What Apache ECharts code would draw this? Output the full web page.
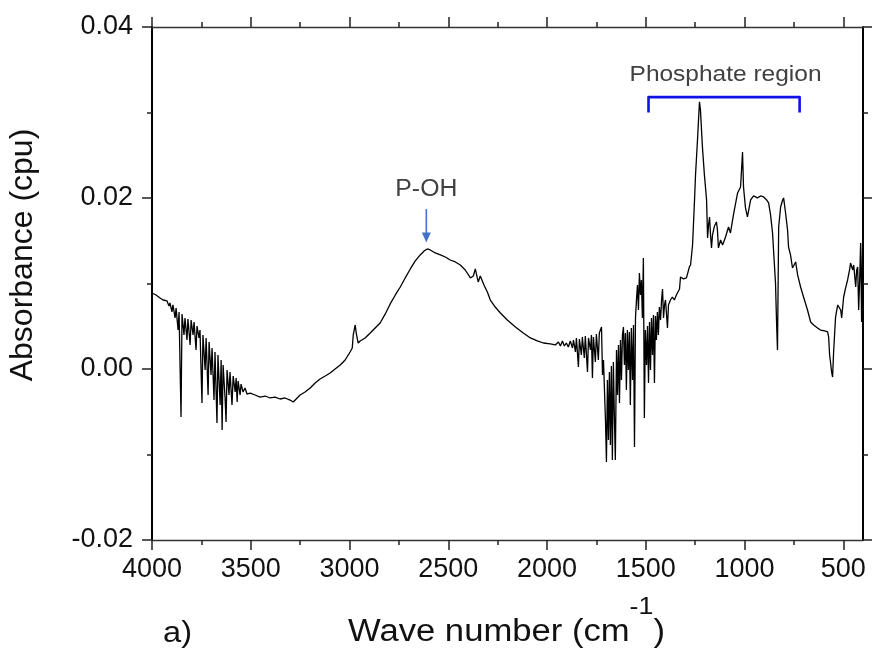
<!DOCTYPE html>
<html><head><meta charset="utf-8">
<script src="https://cdn.jsdelivr.net/npm/echarts@6/dist/echarts.min.js"></script>
<style>html,body{margin:0;padding:0;background:#fff}#c{width:872px;height:652px}</style>
</head><body><div id="c"></div>
<script>
// ---- data (wave number in cm-1, absorbance in cpu) ----
const wavenumber = [
4000,3980,3959,3944,3934,3924,3914,3909,3899,3894,3883,3878,3868,3863,3853,3848,3838,3833,3823,3818,
3807,3802,3792,3787,3777,3772,3762,3757,3747,3742,3731,3726,3716,3711,3701,3696,3686,3681,3671,3666,
3655,3650,3645,3640,3630,3625,3620,3610,3605,3595,3589,3579,3574,3569,3564,3554,3549,3539,3529,3519,
3503,3478,3453,3427,3402,3377,3351,3326,3301,3285,3265,3250,3225,3199,3174,3149,3123,3098,3073,3047,
3022,2997,2986,2981,2971,2966,2956,2946,2921,2895,2870,2845,2819,2794,2768,2743,2718,2692,2667,2642,
2622,2606,2591,2566,2540,2515,2490,2464,2439,2414,2388,2373,2363,2353,2348,2338,2328,2317,2302,2287,
2262,2236,2201,2160,2120,2084,2049,2018,1983,1958,1942,1932,1922,1912,1902,1892,1882,1871,
1866,1856,1851,1841,1836,1826,1821,1811,1806,1795,1790,1780,1775,1770,1765,1755,1750,1740,1735,1724,
1719,1714,1704,1699,1694,1689,1684,1679,1674,1669,1664,1659,1654,1648,1643,1638,1633,1628,1623,1618,
1613,1608,1603,1598,1593,1588,1583,1578,1573,1567,1562,1557,1552,1547,1542,1537,1532,1527,1522,1517,
1512,1507,1502,1496,1491,1486,1481,1476,1471,1466,1461,1456,1451,1446,1441,1436,1431,1425,1420,1415,
1410,1405,1400,1390,1385,1375,1365,1355,1345,1339,1329,1324,1309,1294,1284,1279,1273,1268,1263,1253,
1248,1238,1228,1223,1213,1203,1192,1187,1182,1177,1172,1167,1162,1152,1142,1137,1132,1121,1111,1096,
1081,1071,1056,1035,1020,1015,1010,1005,995,985,969,954,934,919,903,888,878,868,858,853,
843,838,833,827,817,807,802,792,782,777,767,757,741,731,716,701,681,665,650,630,
615,594,579,574,569,564,559,554,549,539,528,523,513,508,498,488,478,468,463,452,
447,437,432,427,422,417,412,407,402
];
const absorbance = [
0.00889,0.00866,0.00831,0.00807,0.00784,0.00796,0.00737,0.00772,0.00667,0.00749,0.00597,0.00714,0.00456,0.00667,-0.00562,0.00644,0.00398,0.00597,0.00339,0.00585,
0.00281,0.00573,0.00398,0.00550,0.00222,0.00503,0.00363,0.00456,-0.00398,0.00398,-0.00012,0.00363,-0.00304,0.00316,-0.00070,0.00246,-0.00363,0.00199,-0.00632,0.00164,
-0.00421,0.00105,-0.00714,0.00047,-0.00339,-0.00620,-0.00012,-0.00304,-0.00035,-0.00421,-0.00082,-0.00269,-0.00105,-0.00386,-0.00140,-0.00304,-0.00176,-0.00269,-0.00222,-0.00293,
-0.00281,-0.00304,-0.00328,-0.00316,-0.00339,-0.00328,-0.00351,-0.00339,-0.00363,-0.00386,-0.00339,-0.00304,-0.00269,-0.00222,-0.00164,-0.00117,-0.00082,-0.00047,0.00000,0.00047,
0.00105,0.00199,0.00246,0.00398,0.00515,0.00421,0.00304,0.00328,0.00363,0.00421,0.00480,0.00538,0.00644,0.00761,0.00866,0.00959,0.01065,0.01170,0.01264,0.01334,
0.01381,0.01404,0.01392,0.01357,0.01334,0.01310,0.01275,0.01252,0.01217,0.01158,0.01065,0.01088,0.01170,0.01065,0.01018,0.01088,0.01076,0.00971,0.00901,0.00807,
0.00725,0.00655,0.00573,0.00491,0.00421,0.00363,0.00328,0.00304,0.00293,0.00281,0.00316,0.00269,0.00328,0.00269,0.00304,0.00257,0.00328,0.00246,
0.00339,0.00199,0.00363,0.00023,0.00351,0.00164,0.00374,0.00129,0.00386,-0.00035,0.00363,0.00222,0.00398,-0.00105,0.00374,0.00082,0.00410,0.00105,0.00421,0.00491,
-0.00070,0.00105,-0.00597,-0.01088,-0.00129,-0.00831,-0.00035,-0.00889,0.00035,-0.01065,0.00082,-0.00538,-0.01065,0.00222,-0.00304,0.00281,-0.00398,0.00339,-0.00129,0.00398,
0.00491,0.00047,0.00421,-0.00246,0.00456,-0.00012,0.00433,-0.00421,0.00480,-0.00129,0.00515,-0.00913,0.00597,0.00807,0.00983,0.00690,0.01123,0.00866,0.01041,0.00597,
0.01299,-0.00573,0.00456,0.00047,0.00503,-0.00164,0.00550,-0.00012,0.00597,0.00164,0.00632,-0.00164,0.00620,0.00339,0.00667,0.00398,0.00725,0.00573,0.00807,0.00936,
0.00597,0.00749,0.00807,0.00480,0.00749,0.00807,0.00842,0.00807,0.00866,0.00889,0.00936,0.01076,0.01053,0.01065,0.01053,0.01193,0.01217,0.01334,0.01451,0.01977,
0.02270,0.02679,0.03124,0.03030,0.02597,0.02270,0.01977,0.01533,0.01685,0.01778,0.01568,0.01416,0.01568,0.01673,0.01720,0.01626,0.01416,0.01509,0.01451,0.01544,
0.01661,0.01591,0.01802,0.02059,0.02129,0.02328,0.02539,0.02129,0.01884,0.01778,0.01977,0.02024,0.02001,0.02024,0.02012,0.01977,0.01942,0.01802,0.01591,0.01392,
0.01006,0.00573,0.00222,0.01661,0.01895,0.01977,0.02001,0.01825,0.01626,0.01427,0.01334,0.01182,0.01252,0.01100,0.00959,0.00842,0.00690,0.00550,0.00515,0.00480,
0.00456,0.00445,0.00433,0.00374,0.00164,0.00070,-0.00035,-0.00094,0.00187,0.00608,0.00749,0.00772,0.00690,0.00597,0.00842,0.00948,0.01041,0.01158,0.01240,0.01158,
0.01217,0.00959,0.01158,0.01193,0.00690,0.01041,0.01474,0.00550,0.01509
];
const xMajorTicks = [4000, 3500, 3000, 2500, 2000, 1500, 1000, 500];
const xMinorTicks = [3750, 3250, 2750, 2250, 1750, 1250, 750];
const yLabels = [-0.02, 0.00, 0.02, 0.04];

// annotation anchors (data units)
const pohAnchor = { x: 2611, textY: 0.0210, arrowTop: 0.0187, arrowTip: 0.0148 };
const bracket = { from: 1486, to: 721, top: 0.0318, bottom: 0.0300, textX: 1096, textY: 0.0344 };

const FONT = '"Liberation Sans", Arial, Helvetica, sans-serif';
const chart = echarts.init(document.getElementById('c'), null, { renderer: 'canvas' });
const seriesData = wavenumber.map((w, i) => [w, absorbance[i]]);

const axisColor = '#222';
function xAxisDef(pos, ticks, len, showLine, showLabel) {
  return {
    type: 'value', position: pos, inverse: true, min: 400, max: 4000,
    axisLine: { show: showLine, onZero: false, lineStyle: { color: '#333', width: 1.3 } },
    axisTick: { show: true, inside: false, length: len, customValues: ticks, lineStyle: { color: axisColor, width: 1.5 } },
    axisLabel: { show: showLabel, customValues: ticks, fontSize: 27, fontFamily: FONT, color: '#111', margin: 16,
      formatter: v => String(Math.round(v)) },
    splitLine: { show: false }
  };
}
function yAxisDef(pos, showLabel) {
  return {
    type: 'value', position: pos, min: -0.02, max: 0.04, interval: 0.02,
    axisLine: { show: true, onZero: false, lineStyle: { color: '#000', width: 2 } },
    axisTick: { show: true, inside: false, length: 10, lineStyle: { color: axisColor, width: 1.5 } },
    minorTick: { show: true, splitNumber: 2, length: 5, lineStyle: { color: axisColor, width: 1.5 } },
    axisLabel: { show: showLabel, fontSize: 27, fontFamily: FONT, color: '#111', margin: 19,
      formatter: v => v.toFixed(2) },
    splitLine: { show: false }, minorSplitLine: { show: false }
  };
}

chart.setOption({
  animation: false,
  backgroundColor: '#fff',
  grid: { left: 152, right: 9, top: 27, bottom: 112, containLabel: false },
  xAxis: [
    xAxisDef('bottom', xMajorTicks, 10, true, true),
    xAxisDef('bottom', xMinorTicks, 5, false, false),
    xAxisDef('top', xMajorTicks, 10, true, false),
    xAxisDef('top', xMinorTicks, 5, false, false)
  ],
  yAxis: [yAxisDef('left', true), yAxisDef('right', false)],
  series: [{
    type: 'line', xAxisIndex: 0, yAxisIndex: 0, data: seriesData,
    showSymbol: false, symbol: 'none', smooth: false,
    lineStyle: { color: '#000', width: 1.3 }, clip: true
  }]
});

// ---- text & annotations ----
const ctx = document.createElement('canvas').getContext('2d');
function tw(text, size) { ctx.font = size + 'px ' + FONT; return ctx.measureText(text).width; }
const px = (x, y) => chart.convertToPixel({ xAxisIndex: 0, yAxisIndex: 0 }, [x, y]);

const mainSize = 31, supSize = 24;
const wMain = tw('Wave number (cm', mainSize), wSup = tw('-1', supSize), wClose = tw(')', mainSize);
const titleLeft = 348, titleWidth = 317;
const s = titleWidth / (wMain + wSup + wClose);

const phText = 'Phosphate region', phSize = 22;
const phScale = 192 / tw(phText, phSize);
const pohSize = 23, pohScale = 62 / tw('P-OH', pohSize);
const aScale = 29 / tw('a)', 29);

const pT = px(pohAnchor.x, pohAnchor.textY);
const pA = px(pohAnchor.x, pohAnchor.arrowTop);
const pTip = px(pohAnchor.x, pohAnchor.arrowTip);
const b1 = px(bracket.from, bracket.top), b2 = px(bracket.to, bracket.top);
const b1b = px(bracket.from, bracket.bottom), b2b = px(bracket.to, bracket.bottom);
const bt = px(bracket.textX, bracket.textY);
const blue = '#4472c4';

chart.setOption({
  graphic: [
    { type: 'text', x: 23, y: 255, rotation: Math.PI / 2,
      style: { text: 'Absorbance (cpu)', fontSize: 32, fontFamily: FONT, fill: '#111', align: 'center', verticalAlign: 'middle' } },
    { type: 'text', x: titleLeft, y: 632, scaleX: s,
      style: { text: 'Wave number (cm', fontSize: mainSize, fontFamily: FONT, fill: '#111', align: 'left', verticalAlign: 'middle' } },
    { type: 'text', x: titleLeft + s * wMain, y: 607, scaleX: s,
      style: { text: '-1', fontSize: supSize, fontFamily: FONT, fill: '#111', align: 'left', verticalAlign: 'middle' } },
    { type: 'text', x: titleLeft + s * (wMain + wSup), y: 632, scaleX: s,
      style: { text: ')', fontSize: mainSize, fontFamily: FONT, fill: '#111', align: 'left', verticalAlign: 'middle' } },
    { type: 'text', x: 163, y: 634, scaleX: aScale,
      style: { text: 'a)', fontSize: 29, fontFamily: FONT, fill: '#111', align: 'left', verticalAlign: 'middle' } },
    { type: 'text', x: pT[0], y: pT[1], scaleX: pohScale,
      style: { text: 'P-OH', fontSize: pohSize, fontFamily: FONT, fill: '#404040', align: 'center', verticalAlign: 'middle' } },
    { type: 'line', shape: { x1: pA[0], y1: pA[1], x2: pTip[0], y2: pTip[1] - 9 },
      style: { stroke: blue, lineWidth: 1.6 } },
    { type: 'polygon', shape: { points: [[pTip[0] - 4.5, pTip[1] - 10], [pTip[0] + 4.5, pTip[1] - 10], [pTip[0], pTip[1]]] },
      style: { fill: blue } },
    { type: 'text', x: bt[0], y: bt[1], scaleX: phScale,
      style: { text: phText, fontSize: phSize, fontFamily: FONT, fill: '#404040', align: 'center', verticalAlign: 'middle' } },
    { type: 'polyline', shape: { points: [b1b, b1, b2, b2b] },
      style: { stroke: '#1010e8', lineWidth: 2.6, fill: null, lineJoin: 'round' } }
  ]
});
</script></body></html>
